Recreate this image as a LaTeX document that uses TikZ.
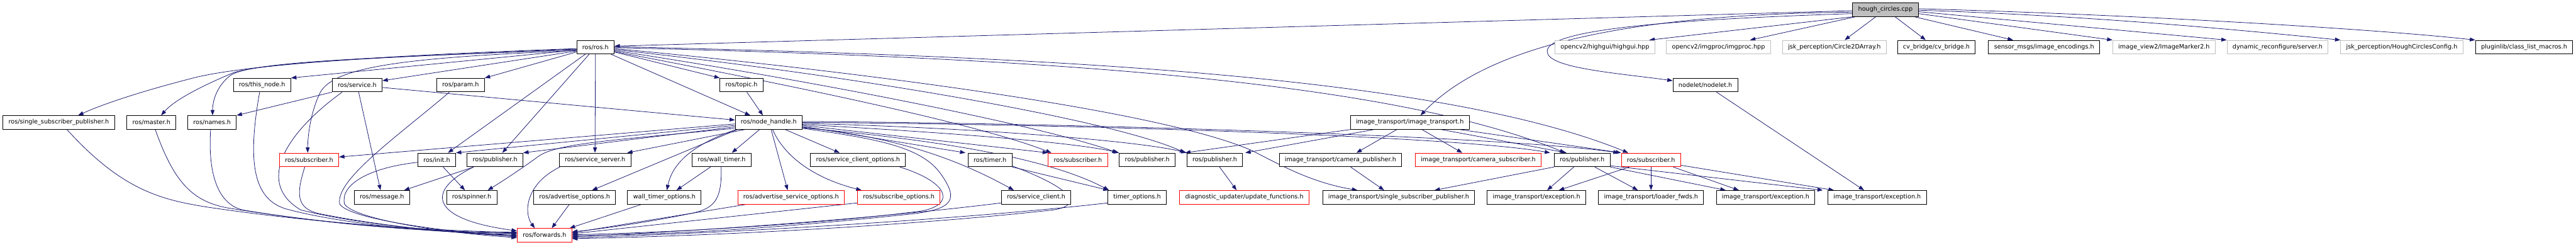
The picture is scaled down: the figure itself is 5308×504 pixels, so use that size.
\documentclass[tikz,border=0pt]{standalone}
\usepackage{fontspec}
\setmainfont{DejaVu Sans}
\usetikzlibrary{arrows.meta,calc}
\definecolor{navy}{HTML}{191970}
\definecolor{grayb}{HTML}{BFBFBF}
\definecolor{redb}{HTML}{FF0000}
\pgfdeclarelayer{bg}
\pgfsetlayers{bg,main}
\tikzset{
 nb/.style={draw=black, line width=1.2pt, rectangle, minimum height=28pt, inner xsep=11.5pt, inner ysep=0pt, font=\fontsize{12.5}{15}\selectfont, fill=white},
 nr/.style={nb, draw=redb},
 ng/.style={nb, draw=grayb},
 rootn/.style={nb, fill=grayb},
 e/.style={draw=navy, line width=1pt, -{Triangle[length=11pt,width=8pt]}},
}
\begin{document}
\begin{tikzpicture}[x=1pt,y=-1pt]
\useasboundingbox (0,0) rectangle (5308,504);
% row 0
\node[rootn] (hc) at (3885,20) {hough\_circles.cpp};
% row 1
\node[nb] (ros) at (1227,97) {ros/ros.h};
\node[ng] (hig) at (3307,97) {opencv2/highgui/highgui.hpp};
\node[ng] (imp) at (3541,97) {opencv2/imgproc/imgproc.hpp};
\node[ng] (c2d) at (3780,97) {jsk\_perception/Circle2DArray.h};
\node[nb] (cvb) at (3990,97) {cv\_bridge/cv\_bridge.h};
\node[nb] (enc) at (4212,97) {sensor\_msgs/image\_encodings.h};
\node[ng] (im2) at (4459,97) {image\_view2/ImageMarker2.h};
\node[ng] (dyn) at (4693,97) {dynamic\_reconfigure/server.h};
\node[ng] (hcc) at (4949,97) {jsk\_perception/HoughCirclesConfig.h};
\node[nb] (plg) at (5201,97) {pluginlib/class\_list\_macros.h};
% row 2
\node[nb] (thn) at (540,175) {ros/this\_node.h};
\node[nb] (srv) at (736,175) {ros/service.h};
\node[nb] (prm) at (949,175) {ros/param.h};
\node[nb] (top) at (1528,175) {ros/topic.h};
\node[nb] (nod) at (3514,175) {nodelet/nodelet.h};
% row 3
\node[nb] (ssp) at (121,252) {ros/single\_subscriber\_publisher.h};
\node[nb] (mst) at (312,252) {ros/master.h};
\node[nb] (nam) at (437,252) {ros/names.h};
\node[nb] (nh) at (1584,252) {ros/node\_handle.h};
\node[nb] (it) at (2905,252) {image\_transport/image\_transport.h};
% row 4
\node[nr] (sub1) at (637,329) {ros/subscriber.h};
\node[nb] (ini) at (900,329) {ros/init.h};
\node[nb] (pub1) at (1020,329) {ros/publisher.h};
\node[nb] (ssv) at (1226,329) {ros/service\_server.h};
\node[nb] (wt) at (1487,329) {ros/wall\_timer.h};
\node[nb] (sco) at (1768,329) {ros/service\_client\_options.h};
\node[nb] (tim) at (2040,329) {ros/timer.h};
\node[nr] (sub2) at (2221,329) {ros/subscriber.h};
\node[nb] (pub2) at (2364,329) {ros/publisher.h};
\node[nb] (pub3) at (2503,329) {ros/publisher.h};
\node[nb] (cp) at (2762,329) {image\_transport/camera\_publisher.h};
\node[nr] (cs) at (3046,329) {image\_transport/camera\_subscriber.h};
\node[nb] (pub4) at (3260,329) {ros/publisher.h};
\node[nr] (sub3) at (3402,329) {ros/subscriber.h};
% row 5
\node[nb] (msg) at (787,406) {ros/message.h};
\node[nb] (spn) at (972,406) {ros/spinner.h};
\node[nb] (ado) at (1184,406) {ros/advertise\_options.h};
\node[nb] (wto) at (1369,406) {wall\_timer\_options.h};
\node[nr] (aso) at (1630,406) {ros/advertise\_service\_options.h};
\node[nr] (suo) at (1852,406) {ros/subscribe\_options.h};
\node[nb] (scl) at (2135,406) {ros/service\_client.h};
\node[nb] (tio) at (2343,406) {timer\_options.h};
\node[nr] (diag) at (2564,406) {diagnostic\_updater/update\_functions.h};
\node[nb] (itssp) at (2882,406) {image\_transport/single\_subscriber\_publisher.h};
\node[nb] (ex1) at (3166,406) {image\_transport/exception.h};
\node[nb] (ldr) at (3402,406) {image\_transport/loader\_fwds.h};
\node[nb] (ex2) at (3638,406) {image\_transport/exception.h};
\node[nb] (ex3) at (3868,406) {image\_transport/exception.h};
% row 6
\node[nr] (fwd) at (1122,484) {ros/forwards.h};

\begin{pgfonlayer}{bg}
\fill[white] (0,0) rectangle (5308,504);
% from hough_circles.cpp
\draw[e] ($(hc.west)+(0,2)$) -- ($(ros.east)+(0,-2)$);
\draw[e] ($(hc.west)+(0,5)$) .. controls (3300,30) and (3050,110) .. ($(it.north)+(22,0)$);
\draw[e] ($(hc.west)+(0,8)$) .. controls (3450,40) and (3190,60) .. (3188,105) .. controls (3186,140) and (3330,150) .. ($(nod.west)+(0,-9)$);
\draw[e] (hc.south west) -- ($(hig.north east)+(-12,0)$);
\draw[e] ($(hc.south)+(-62,0)$) -- ($(imp.north)+(65,0)$);
\draw[e] ($(hc.south)+(-20,0)$) -- ($(c2d.north)+(21,0)$);
\draw[e] ($(hc.south)+(20,0)$) -- ($(cvb.north)+(-22,0)$);
\draw[e] ($(hc.south)+(60,0)$) -- ($(enc.north)+(-64,0)$);
\draw[e] ($(hc.east)+(0,8)$) -- (im2.north west);
\draw[e] ($(hc.east)+(0,4)$) -- (dyn.north west);
\draw[e] ($(hc.east)+(0,1)$) .. controls (4300,32) and (4600,60) .. (hcc.north west);
\draw[e] ($(hc.east)+(0,-2)$) .. controls (4400,30) and (4900,60) .. (plg.north west);
% from ros/ros.h, left side
\draw[e] ($(ros.west)+(0,3)$) .. controls (850,112) and (520,130) .. (400,160) .. controls (290,188) and (210,215) .. ($(ssp.north)+(40,0)$);
\draw[e] ($(ros.west)+(0,4)$) .. controls (850,115) and (540,128) .. (480,150) .. controls (420,175) and (360,205) .. ($(mst.north)+(20,0)$);
\draw[e] ($(ros.west)+(0,5)$) .. controls (800,118) and (520,125) .. (475,155) .. controls (445,178) and (438,210) .. ($(nam.north)+(1,0)$);
\draw[e] ($(ros.west)+(0,6)$) -- (thn.north east);
\draw[e] ($(ros.west)+(0,8)$) -- ($(srv.east)+(0,-9)$);
\draw[e] ($(ros.west)+(0,7)$) .. controls (850,118) and (690,135) .. (660,190) .. controls (640,230) and (634,280) .. ($(sub1.north)+(-3,0)$);
\draw[e] ($(ros.west)+(0,10)$) -- (prm.north east);
\draw[e] ($(ros.south)+(-21,0)$) -- ($(ini.north)+(23,0)$);
\draw[e] ($(ros.south)+(-13,0)$) -- ($(pub1.north)+(15,0)$);
\draw[e] (ros.south) -- (ssv.north);
\draw[e] ($(ros.south)+(32,0)$) -- ($(nh.north)+(-38,0)$);
\draw[e] ($(ros.east)+(0,10)$) -- (top.north west);
% from ros/ros.h, right side
\draw[e] ($(ros.east)+(0,-1)$) .. controls (2100,115) and (2950,150) .. ($(sub3.north)+(-47,0)$);
\draw[e] ($(ros.east)+(0,1)$) .. controls (2100,118) and (2850,160) .. ($(pub4.north)+(-35,0)$);
\draw[e] ($(ros.east)+(0,3)$) .. controls (1800,150) and (2400,230) .. (2580,310) .. controls (2640,340) and (2700,375) .. ($(itssp.north)+(-85,0)$);
\draw[e] ($(ros.east)+(0,5)$) .. controls (1800,160) and (2300,250) .. ($(pub3.north west)+(-3,0)$);
\draw[e] ($(ros.east)+(0,7)$) .. controls (1700,170) and (2150,260) .. ($(pub2.north west)+(-3,0)$);
\draw[e] ($(ros.east)+(0,9)$) .. controls (1600,170) and (2000,250) .. ($(sub2.north west)+(7,0)$);
% from ros/node_handle.h
\draw[e] ($(nh.west)+(0,3)$) -- ($(sub1.east)+(0,-6)$);
\draw[e] ($(nh.west)+(0,6)$) -- (ini.north east);
\draw[e] ($(nh.west)+(0,9)$) -- (pub1.north east);
\draw[e] ($(nh.west)+(0,12)$) .. controls (1250,290) and (1140,295) .. (1105,325) .. controls (1070,350) and (1040,370) .. ($(spn.north)+(33,0)$);
\draw[e] ($(nh.south west)+(20,0)$) -- ($(ssv.north east)+(-8,0)$);
\draw[e] ($(nh.south west)+(5,0)$) -- ($(ado.north)+(36,0)$);
\draw[e] ($(nh.south west)+(2,0)$) .. controls (1420,300) and (1385,340) .. ($(wto.north)+(5,0)$);
\draw[e] ($(nh.south)+(-19,0)$) -- ($(wt.north)+(21,0)$);
\draw[e] ($(nh.south)+(5,0)$) -- ($(aso.north)+(-7,0)$);
\draw[e] ($(nh.south)+(8,0)$) .. controls (1620,330) and (1690,370) .. ($(suo.north west)+(9,0)$);
\draw[e] ($(nh.south)+(34,0)$) -- ($(sco.north)+(-38,0)$);
\draw[e] ($(nh.east)+(0,8)$) -- ($(tim.north west)+(-5,0)$);
\draw[e] ($(nh.east)+(0,6)$) -- (sub2.north west);
\draw[e] ($(nh.east)+(0,4)$) .. controls (1900,270) and (2200,290) .. (pub2.north west);
\draw[e] ($(nh.east)+(0,2)$) .. controls (2000,262) and (2350,290) .. (pub3.north west);
\draw[e] (nh.east) .. controls (2200,255) and (3000,280) .. ($(pub4.north west)+(-8,0)$);
\draw[e] ($(nh.east)+(0,-2)$) .. controls (2200,253) and (3100,280) .. ($(sub3.north west)+(-5,0)$);
\draw[e] ($(nh.east)+(0,10)$) .. controls (1830,280) and (1960,320) .. ($(scl.north)+(-46,0)$);
\draw[e] ($(nh.east)+(0,11)$) .. controls (1900,285) and (2150,320) .. ($(tio.north west)+(3,0)$);
\draw[e] ($(nh.east)+(0,12)$) .. controls (1800,285) and (1900,300) .. (1940,360) .. controls (1975,410) and (1965,430) .. (1880,440) .. controls (1600,470) and (1400,482) .. ($(fwd.east)+(0,1)$);
% other ros edges
\draw[e] ($(top.south)+(11,0)$) -- ($(nh.north)+(-12,0)$);
\draw[e] ($(srv.east)+(0,5)$) -- ($(nh.west)+(0,-5)$);
\draw[e] (srv.south west) -- (nam.north east);
\draw[e] ($(srv.south)+(3,0)$) -- ($(msg.north)+(-3,0)$);
% into forwards.h from the left
\draw[e] ($(ssp.south)+(17,0)$) .. controls (250,390) and (330,410) .. (420,425) .. controls (650,460) and (900,475) .. ($(fwd.west)+(0,-6)$);
\draw[e] ($(mst.south)+(8,0)$) .. controls (360,380) and (400,415) .. (470,428) .. controls (700,465) and (900,477) .. ($(fwd.west)+(0,-5)$);
\draw[e] ($(nam.south)+(-3,0)$) .. controls (428,360) and (450,420) .. (500,432) .. controls (700,465) and (900,478) .. ($(fwd.west)+(0,-4)$);
\draw[e] ($(thn.south)+(-5,0)$) .. controls (510,330) and (520,410) .. (590,430) .. controls (700,460) and (900,480) .. ($(fwd.west)+(0,-2)$);
\draw[e] ($(srv.south)+(-31,0)$) .. controls (580,280) and (530,380) .. (620,432) .. controls (750,465) and (950,480) .. (fwd.west);
\draw[e] ($(sub1.south)+(-9,0)$) .. controls (610,400) and (610,430) .. (660,440) .. controls (800,468) and (950,480) .. ($(fwd.west)+(0,2)$);
\draw[e] ($(prm.south)+(-23,0)$) .. controls (820,280) and (690,370) .. (700,420) .. controls (720,450) and (900,475) .. ($(fwd.west)+(0,3)$);
\draw[e] ($(ini.west)+(0,5)$) .. controls (760,345) and (700,380) .. (710,420) .. controls (730,450) and (900,478) .. ($(fwd.west)+(0,5)$);
\draw[e] ($(pub1.south west)+(14,0)$) .. controls (880,390) and (880,450) .. ($(fwd.west)+(0,-9)$);
\draw[e] ($(pub1.south west)+(14,0)$) -- ($(msg.north east)+(-12,0)$);
\draw[e] ($(ini.south)+(13,0)$) -- ($(spn.north)+(-14,0)$);
% into forwards.h from above and the right
\draw[e] ($(ssv.south west)+(2,0)$) .. controls (1080,380) and (1080,440) .. ($(fwd.north)+(-20,0)$);
\draw[e] ($(ado.south)+(-11,0)$) -- ($(fwd.north)+(15,0)$);
\draw[e] ($(wto.south west)+(29,0)$) -- ($(fwd.north east)+(-5,0)$);
\draw[e] ($(wt.south)+(-23,0)$) -- ($(wto.north)+(25,0)$);
\draw[e] ($(wt.south)+(-1,0)$) .. controls (1488,415) and (1470,430) .. (1420,440) .. controls (1320,460) and (1230,472) .. ($(fwd.east)+(0,-7)$);
\draw[e] ($(aso.south west)+(18,0)$) -- ($(fwd.east)+(0,-5)$);
\draw[e] ($(suo.south west)+(0,-3)$) -- ($(fwd.east)+(0,-3)$);
\draw[e] ($(sco.south)+(86,0)$) .. controls (1955,375) and (1970,420) .. (1900,434) .. controls (1700,460) and (1400,478) .. ($(fwd.east)+(0,-1)$);
\draw[e] ($(scl.south west)+(0,-3)$) .. controls (1800,450) and (1450,475) .. ($(fwd.east)+(0,3)$);
\draw[e] ($(tio.south west)+(0,-3)$) .. controls (2000,450) and (1500,480) .. ($(fwd.east)+(0,5)$);
\draw[e] (tim.south east) -- ($(tio.north west)+(2,0)$);
\draw[e] ($(tim.south east)+(0,-2)$) .. controls (2190,380) and (2245,420) .. (2170,432) .. controls (1900,462) and (1500,485) .. ($(fwd.east)+(0,7)$);
% image_transport part
\draw[e] ($(pub3.south)+(10,0)$) -- ($(diag.north)+(-16,0)$);
\draw[e] (it.south west) -- ($(pub3.north west)+(-3,0)$);
\draw[e] ($(it.south west)+(49,0)$) -- ($(pub3.north east)+(5,0)$);
\draw[e] ($(it.south)+(-27,0)$) -- ($(cp.north)+(33,0)$);
\draw[e] ($(it.south)+(25,0)$) -- ($(cs.north)+(-33,0)$);
\draw[e] ($(it.south)+(65,0)$) -- ($(pub4.north)+(-32,0)$);
\draw[e] ($(it.south east)+(-20,0)$) -- (sub3.north west);
\draw[e] ($(cp.south)+(21,0)$) -- ($(itssp.north)+(-30,0)$);
\draw[e] (pub4.south west) -- ($(itssp.north)+(74,0)$);
\draw[e] ($(pub4.south)+(-17,0)$) -- ($(ex1.north)+(22,0)$);
\draw[e] ($(pub4.south)+(26,0)$) -- ($(ldr.north)+(-27,0)$);
\draw[e] (pub4.south east) -- ($(ex2.north west)+(20,0)$);
\draw[e] ($(pub4.east)+(0,12)$) -- ($(ex3.north west)+(-10,0)$);
\draw[e] ($(sub3.south)+(-45,0)$) -- ($(ex1.north east)+(-56,0)$);
\draw[e] (sub3.south) -- (ldr.north);
\draw[e] ($(sub3.south east)+(-16,0)$) -- ($(ex2.north)+(-55,0)$);
\draw[e] ($(sub3.east)+(0,11)$) -- ($(ex3.north west)+(13,0)$);
\draw[e] ($(nod.south)+(23,0)$) -- ($(ex3.north)+(-27,0)$);
\end{pgfonlayer}
\end{tikzpicture}
\end{document}
